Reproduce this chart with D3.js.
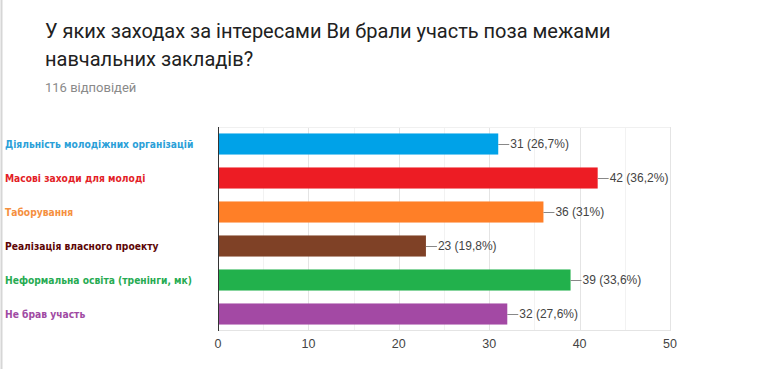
<!DOCTYPE html>
<html>
<head>
<meta charset="utf-8">
<script src="https://cdn.jsdelivr.net/npm/d3@7"></script>
<style>
  body { margin: 0; background: #fff; }
  svg { display: block; }
</style>
</head>
<body>
<svg id="chart" width="770" height="369"></svg>
<script>
// data
var categories = [
  "Діяльність молодіжних організацій",
  "Масові заходи для молоді",
  "Таборування",
  "Реалізація власного проекту",
  "Неформальна освіта (тренінги, мк)",
  "Не брав участь"
];
var counts = [31, 42, 36, 23, 39, 32];
var percents = ["26,7%", "36,2%", "31%", "19,8%", "33,6%", "27,6%"];
var xTicks = [0, 10, 20, 30, 40, 50];
var barColors = ["#00a2e8", "#ed1c24", "#ff7f27", "#7f4126", "#22b14c", "#a349a4"];
var labelColors = ["#2ba0d8", "#e31e27", "#f5903f", "#5c0505", "#27ab52", "#a04aa3"];

var svg = d3.select("#chart");

// page border on the left
svg.append("line")
    .attr("x1", 1.5).attr("x2", 1.5)
    .attr("y1", 0).attr("y2", 369)
    .style("stroke", "#d6d6d6")
    .style("stroke-width", 2);

// title
var title = svg.append("text")
    .attr("x", 45)
    .style("font-family", "Roboto, sans-serif")
    .style("font-size", "20px")
    .style("fill", "#212121");
title.append("tspan").attr("x", 45).attr("y", 38)
    .text("У яких заходах за інтересами Ви брали участь поза межами");
title.append("tspan").attr("x", 45).attr("y", 66)
    .text("навчальних закладів?");

svg.append("text")
    .attr("x", 45).attr("y", 92)
    .style("font-family", "Roboto, sans-serif")
    .style("font-size", "13px")
    .style("fill", "#8a8a8a")
    .text("116 відповідей");

var x = d3.scaleLinear().domain([0, 50]).range([218, 670]);
var y = d3.scaleBand().domain(categories).range([127, 331])
    .paddingInner(0.38).paddingOuter(0.19);

var g = svg.append("g");

// grid
g.selectAll("line.minor")
    .data(d3.range(5, 51, 10))
    .enter().append("line")
    .attr("x1", function (d) { return Math.round(x(d)) + 0.5; })
    .attr("x2", function (d) { return Math.round(x(d)) + 0.5; })
    .attr("y1", 127).attr("y2", 331)
    .style("stroke", "#f2f2f2");

g.selectAll("line.major")
    .data(xTicks.slice(1))
    .enter().append("line")
    .attr("x1", function (d) { return Math.round(x(d)) + 0.5; })
    .attr("x2", function (d) { return Math.round(x(d)) + 0.5; })
    .attr("y1", 127).attr("y2", 331)
    .style("stroke", "#e4e4e4");

g.append("line")
    .attr("x1", 218).attr("x2", 670)
    .attr("y1", 127.5).attr("y2", 127.5)
    .style("stroke", "#f0f0f0");
g.append("line")
    .attr("x1", 218).attr("x2", 670)
    .attr("y1", 330.5).attr("y2", 330.5)
    .style("stroke", "#e4e4e4");

// bars
g.selectAll("rect.bar")
    .data(counts)
    .enter().append("rect")
    .attr("x", x(0))
    .attr("y", function (d, i) { return y(categories[i]); })
    .attr("width", function (d) { return x(d) - x(0); })
    .attr("height", y.bandwidth())
    .style("fill", function (d, i) { return barColors[i]; });

// leader lines + value labels
g.selectAll("line.lead")
    .data(counts)
    .enter().append("line")
    .attr("x1", function (d) { return x(d); })
    .attr("x2", function (d) { return x(d) + 11; })
    .attr("y1", function (d, i) { return Math.round(y(categories[i]) + y.bandwidth() / 2) + 0.5; })
    .attr("y2", function (d, i) { return Math.round(y(categories[i]) + y.bandwidth() / 2) + 0.5; })
    .style("stroke", "#888");

g.selectAll("text.val")
    .data(counts)
    .enter().append("text")
    .attr("x", function (d) { return x(d) + 12; })
    .attr("y", function (d, i) { return y(categories[i]) + y.bandwidth() / 2; })
    .attr("dy", "0.35em")
    .style("font-family", "Arial, 'Liberation Sans', sans-serif")
    .style("font-size", "12px")
    .style("fill", "#444")
    .text(function (d, i) { return d + " (" + percents[i] + ")"; });

// y axis line
g.append("line")
    .attr("x1", 218.5).attr("x2", 218.5)
    .attr("y1", 127).attr("y2", 331)
    .style("stroke", "#333");

// x tick labels
g.selectAll("text.tick")
    .data(xTicks)
    .enter().append("text")
    .attr("x", function (d) { return x(d); })
    .attr("y", 348)
    .attr("text-anchor", "middle")
    .style("font-family", "Arial, 'Liberation Sans', sans-serif")
    .style("font-size", "12.5px")
    .style("fill", "#444")
    .text(function (d) { return d; });

// category labels, coloured like the bars
svg.selectAll("text.cat")
    .data(categories)
    .enter().append("text")
    .attr("x", 5)
    .attr("y", function (d) { return y(d) + y.bandwidth() / 2; })
    .attr("dy", "0.35em")
    .style("font-family", "'DejaVu Sans Condensed', 'DejaVu Sans', sans-serif")
    .style("font-weight", "bold")
    .style("font-size", "10.2px")
    .style("fill", function (d, i) { return labelColors[i]; })
    .text(function (d) { return d; });
</script>
</body>
</html>
